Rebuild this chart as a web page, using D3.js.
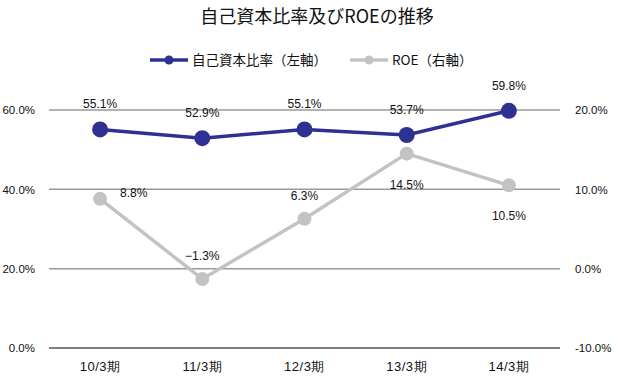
<!DOCTYPE html>
<html><head><meta charset="utf-8">
<script src="https://cdn.jsdelivr.net/npm/d3@7"></script>
<style>body{margin:0;background:#fff}svg{display:block;font-family:"Noto Sans CJK JP","Noto Sans",sans-serif}</style>
</head><body>
<script>
const categories = ["10/3期","11/3期","12/3期","13/3期","14/3期"];
const equityRatio = [55.1, 52.9, 55.1, 53.7, 59.8];
const roe = [8.8, -1.3, 6.3, 14.5, 10.5];
const leftTicks = [0, 20, 40, 60];
const rightTicks = [-10, 0, 10, 20];
const seriesNames = ["自己資本比率（左軸）", "ROE（右軸）"];
const roeLabelPos = ["right","above","above","below","below"];

const W = 618, H = 379;
const m = {left: 49, right: 58, top: 110, bottom: 31};
const svg = d3.select("body").append("svg").attr("width", W).attr("height", H);

const x = d3.scaleBand().domain(categories).range([m.left, W - m.right]);
const yL = d3.scaleLinear().domain([0, 60]).range([H - m.bottom, m.top]);
const yR = d3.scaleLinear().domain([-10, 20]).range([H - m.bottom, m.top]);
const blue = "#2E3192", gray = "#C3C3C3";

svg.append("text").attr("x", 317).attr("y", 23).attr("text-anchor","middle")
  .attr("font-size", 18).attr("font-weight", 400).attr("fill","#111").text("自己資本比率及びROEの推移");

// gridlines
svg.append("g").selectAll("line").data(leftTicks).join("line")
  .attr("x1", m.left).attr("x2", W - m.right)
  .attr("y1", d => yL(d)).attr("y2", d => yL(d))
  .attr("stroke", d => d === 0 ? "#000" : "#999").attr("stroke-width", d => d === 0 ? 1.2 : 1.5);

// left axis
const gL = svg.append("g").attr("transform", `translate(${m.left - 11},0)`)
  .call(d3.axisLeft(yL).tickValues(leftTicks).tickFormat(d => d.toFixed(1) + "%").tickSize(0));
gL.select(".domain").remove();
gL.selectAll("text").attr("font-size", 11.5).attr("fill","#111").attr("font-family","Liberation Sans, Arial, sans-serif");

const gR = svg.append("g").attr("transform", `translate(${W - m.right + 12},0)`)
  .call(d3.axisRight(yR).tickValues(rightTicks).tickFormat(d => d.toFixed(1) + "%").tickSize(0));
gR.select(".domain").remove();
gR.selectAll("text").attr("font-size", 11.5).attr("fill","#111").attr("font-family","Liberation Sans, Arial, sans-serif");

const gX = svg.append("g").attr("transform", `translate(0,${H - m.bottom + 11})`)
  .call(d3.axisBottom(x).tickSize(0));
gX.select(".domain").remove();
gX.selectAll("text").attr("font-size", 13).attr("letter-spacing", "0.5px").attr("fill","#111");

const cx = d => x(d) + x.bandwidth() / 2;

// ROE line
svg.append("path").datum(roe)
  .attr("d", d3.line().x((d,i) => cx(categories[i])).y(d => yR(d)))
  .attr("fill","none").attr("stroke", gray).attr("stroke-width", 3.5);
svg.append("g").selectAll("circle").data(roe).join("circle")
  .attr("cx", (d,i) => cx(categories[i])).attr("cy", d => yR(d)).attr("r", 7).attr("fill", gray);

// Equity line
svg.append("path").datum(equityRatio)
  .attr("d", d3.line().x((d,i) => cx(categories[i])).y(d => yL(d)))
  .attr("fill","none").attr("stroke", blue).attr("stroke-width", 3.5);
svg.append("g").selectAll("circle").data(equityRatio).join("circle")
  .attr("cx", (d,i) => cx(categories[i])).attr("cy", d => yL(d)).attr("r", 8).attr("fill", blue);

const lblFont = "Liberation Sans, Arial, sans-serif";
svg.append("g").selectAll("text").data(equityRatio).join("text")
  .attr("x", (d,i) => cx(categories[i])).attr("y", d => yL(d) - 21)
  .attr("text-anchor","middle").attr("font-size", 12).attr("font-family", lblFont).attr("fill","#111")
  .text(d => d.toFixed(1) + "%");

svg.append("g").selectAll("text").data(roe).join("text")
  .attr("x", (d,i) => cx(categories[i]) + (roeLabelPos[i] === "right" ? 20 : 0))
  .attr("y", (d,i) => yR(d) + (roeLabelPos[i] === "right" ? -2 : roeLabelPos[i] === "above" ? -19 : 35))
  .attr("text-anchor", (d,i) => roeLabelPos[i] === "right" ? "start" : "middle")
  .attr("font-size", 12).attr("font-family", lblFont).attr("fill","#111")
  .text(d => (d < 0 ? "−" : "") + Math.abs(d).toFixed(1) + "%");

// legend
const leg = [{name: seriesNames[0], c: blue, x0: 150, r: 4.5}, {name: seriesNames[1], c: gray, x0: 350, r: 4.5}];
const lg = svg.append("g").selectAll("g").data(leg).join("g").attr("transform", d => `translate(${d.x0},60)`);
lg.append("line").attr("x1", 0).attr("x2", 38).attr("stroke", d => d.c).attr("stroke-width", 3.5);
lg.append("circle").attr("cx", 19).attr("r", d => d.r).attr("fill", d => d.c);
lg.append("text").attr("x", 42).attr("y", 5).attr("font-size", 13.5).attr("fill","#111").text(d => d.name);
</script>
</body></html>
